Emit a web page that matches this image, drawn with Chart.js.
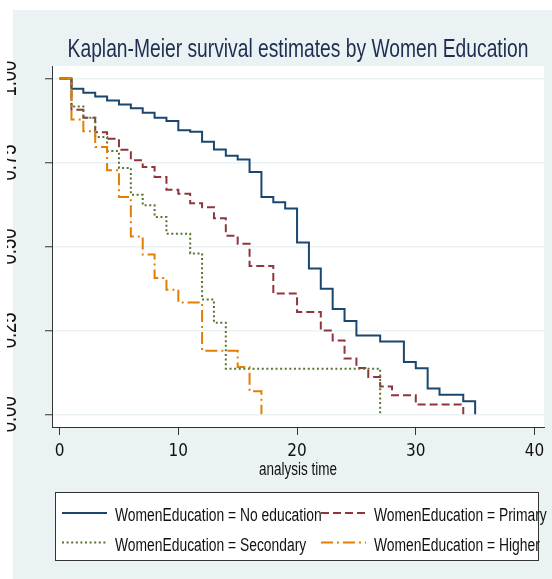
<!DOCTYPE html>
<html>
<head>
<meta charset="utf-8">
<title>Kaplan-Meier survival estimates by Women Education</title>
<script src="https://cdn.jsdelivr.net/npm/chart.js@4/dist/chart.umd.min.js"></script>
<style>
  html, body { margin: 0; padding: 0; background: #ffffff; }
  canvas { display: block; }
</style>
</head>
<body>
<canvas id="km" width="552" height="579"></canvas>
<script>
// Kaplan-Meier step estimates: time of each step and survival just after it
const groupLabels = [
  'WomenEducation = No education',
  'WomenEducation = Primary',
  'WomenEducation = Secondary',
  'WomenEducation = Higher'
];

const timesNoEducation = [0,1,2,3,4,5,6,7,8,9,10,11,12,13,14,15,16,17,18,19,20,21,22,23,24,25,27,29,30,31,32,34,35];
const survNoEducation  = [1.000,0.970,0.958,0.947,0.935,0.923,0.912,0.898,0.883,0.874,0.846,0.842,0.812,0.789,0.770,0.759,0.722,0.647,0.632,0.613,0.512,0.434,0.374,0.314,0.278,0.235,0.217,0.156,0.137,0.077,0.058,0.039,0.000];

const timesPrimary = [0,1,2,3,4,5,6,7,8,9,10,11,12,13,14,15,16,18,20,22,23,24,25,26,27,28,30,34];
const survPrimary  = [1.000,0.907,0.883,0.840,0.821,0.788,0.757,0.737,0.707,0.669,0.657,0.629,0.617,0.584,0.532,0.508,0.442,0.360,0.305,0.250,0.220,0.166,0.138,0.111,0.083,0.057,0.029,0.000];

const timesSecondary = [0,1,2,3,4,5,6,7,8,9,11,12,13,14,27];
const survSecondary  = [1.000,0.917,0.883,0.826,0.784,0.734,0.654,0.623,0.588,0.538,0.479,0.342,0.273,0.136,0.000];

const timesHigher = [0,1,2,3,4,5,6,7,8,9,10,12,15,16,17];
const survHigher  = [1.000,0.878,0.843,0.796,0.727,0.647,0.530,0.476,0.406,0.371,0.333,0.189,0.141,0.069,0.000];

const xTickValues = [0, 10, 20, 30, 40];
const yTickValues = [0, 0.25, 0.5, 0.75, 1];
const yTickLabels = ['0.00', '0.25', '0.50', '0.75', '1.00'];

const titleText = 'Kaplan-Meier survival estimates by Women Education';
const xAxisTitle = 'analysis time';

const SANS = "'Liberation Sans', Arial, sans-serif";
const TICK_FONT = "'DejaVu Sans Condensed', 'Liberation Sans', sans-serif";
const NARROW = 0.77;          // horizontal squeeze giving a narrow face
const BG = '#eaf2f3';

function toPoints(times, surv) {
  return times.map((t, i) => ({ x: t, y: surv[i] }));
}

// Draws a string in a horizontally condensed sans face
function narrowText(ctx, text, x, y, size, align, color, angle) {
  ctx.save();
  ctx.translate(x, y);
  if (angle) ctx.rotate(angle);
  ctx.scale(NARROW, 1);
  ctx.font = size + 'px ' + SANS;
  ctx.textAlign = align;
  ctx.textBaseline = 'alphabetic';
  ctx.fillStyle = color;
  ctx.fillText(text, 0, 0);
  ctx.restore();
}

const seriesStyle = [
  { color: '#1a476f', dash: [],            width: 2 },
  { color: '#90353b', dash: [8, 4],        width: 2 },
  { color: '#55752f', dash: [2, 2.6],      width: 2 },
  { color: '#e37e00', dash: [12, 4, 2, 4], width: 2 }
];
const seriesData = [
  toPoints(timesNoEducation, survNoEducation),
  toPoints(timesPrimary, survPrimary),
  toPoints(timesSecondary, survSecondary),
  toPoints(timesHigher, survHigher)
];

const datasets = seriesData.map((pts, i) => ({
  label: groupLabels[i],
  data: pts,
  borderColor: seriesStyle[i].color,
  backgroundColor: seriesStyle[i].color,
  borderWidth: seriesStyle[i].width,
  borderDash: seriesStyle[i].dash,
  borderCapStyle: 'butt',
  borderJoinStyle: 'miter',
  stepped: 'before',
  pointRadius: 0,
  fill: false,
  order: 3 - i
}));

// Grey page with a white plot region behind the curves
const backdrop = {
  id: 'backdrop',
  beforeDraw(chart) {
    const { ctx, chartArea: a, width, height } = chart;
    ctx.save();
    ctx.fillStyle = '#ffffff';
    ctx.fillRect(0, 0, width, height);
    ctx.fillStyle = BG;
    ctx.fillRect(13, 10, width - 13, height - 10);
    ctx.fillStyle = '#ffffff';
    ctx.fillRect(a.left, a.top, a.right - a.left, a.bottom - a.top);
    ctx.restore();
  }
};

// Title, x-axis caption and vertical y tick labels
const captions = {
  id: 'captions',
  afterDraw(chart) {
    const { ctx, chartArea: a } = chart;
    const cx = (a.left + a.right) / 2;
    narrowText(ctx, titleText, cx, 56.5, 25, 'center', '#1f2d50');
    narrowText(ctx, xAxisTitle, cx, 474.5, 17.5, 'center', '#111111');

    const ys = chart.scales.y;
    ctx.save();
    ctx.beginPath();
    ctx.rect(7, 0, 40, chart.height);
    ctx.clip();
    yTickValues.forEach((v, i) => {
      narrowText(ctx, yTickLabels[i], 15.5, ys.getPixelForValue(v), 24, 'center', '#111111', -Math.PI / 2);
    });
    ctx.restore();
  }
};

// Two-column framed key below the axis caption
const keyBox = {
  id: 'keyBox',
  afterDraw(chart) {
    const { ctx } = chart;
    const box = { left: 55.5, top: 492.5, right: 538.5, bottom: 560.5 };
    const rows = [{ line: 513, base: 521 }, { line: 542.5, base: 550.5 }];
    const cols = [{ x0: 62, x1: 107, tx: 115 }, { x0: 321, x1: 366, tx: 374 }];
    ctx.save();
    ctx.fillStyle = '#ffffff';
    ctx.fillRect(box.left, box.top, box.right - box.left, box.bottom - box.top);
    ctx.strokeStyle = '#333333';
    ctx.lineWidth = 1;
    ctx.strokeRect(box.left, box.top, box.right - box.left, box.bottom - box.top);
    chart.data.datasets.forEach((ds, i) => {
      const r = rows[Math.floor(i / 2)];
      const c = cols[i % 2];
      ctx.strokeStyle = ds.borderColor;
      ctx.lineWidth = ds.borderWidth;
      ctx.setLineDash(ds.borderDash);
      ctx.beginPath();
      ctx.moveTo(c.x0, r.line);
      ctx.lineTo(c.x1, r.line);
      ctx.stroke();
      ctx.setLineDash([]);
    });
    ctx.restore();
    chart.data.datasets.forEach((ds, i) => {
      const r = rows[Math.floor(i / 2)];
      const c = cols[i % 2];
      narrowText(ctx, ds.label, c.tx, r.base, 18, 'left', '#111111');
    });
  }
};

new Chart(document.getElementById('km'), {
  type: 'line',
  data: { datasets },
  options: {
    responsive: false,
    animation: false,
    devicePixelRatio: 1,
    layout: { padding: { left: 0, right: 8, top: 66, bottom: 0 } },
    plugins: {
      legend: { display: false },
      tooltip: { enabled: false },
      title: { display: false }
    },
    scales: {
      x: {
        type: 'linear',
        min: -0.64,
        max: 40.8,
        afterBuildTicks: s => { s.ticks = xTickValues.map(v => ({ value: v })); },
        afterFit: s => { s.height = 152; },
        grid: { drawOnChartArea: false, drawTicks: true, tickLength: 8, tickColor: '#333333', tickWidth: 1 },
        border: { display: true, color: '#333333', width: 1 },
        ticks: { color: '#111111', padding: 6, font: { family: TICK_FONT, size: 17 }, maxRotation: 0, callback: v => String(v) },
        title: { display: false }
      },
      y: {
        type: 'linear',
        min: -0.0378,
        max: 1.0375,
        afterBuildTicks: s => { s.ticks = yTickValues.map(v => ({ value: v })); },
        afterFit: s => { s.width = 52; },
        grid: { color: BG, lineWidth: 1.5, drawTicks: true, tickLength: 7, tickColor: '#333333', tickWidth: 1 },
        border: { display: true, color: '#333333', width: 1 },
        ticks: { display: false }
      }
    }
  },
  plugins: [backdrop, captions, keyBox]
});
</script>
</body>
</html>
